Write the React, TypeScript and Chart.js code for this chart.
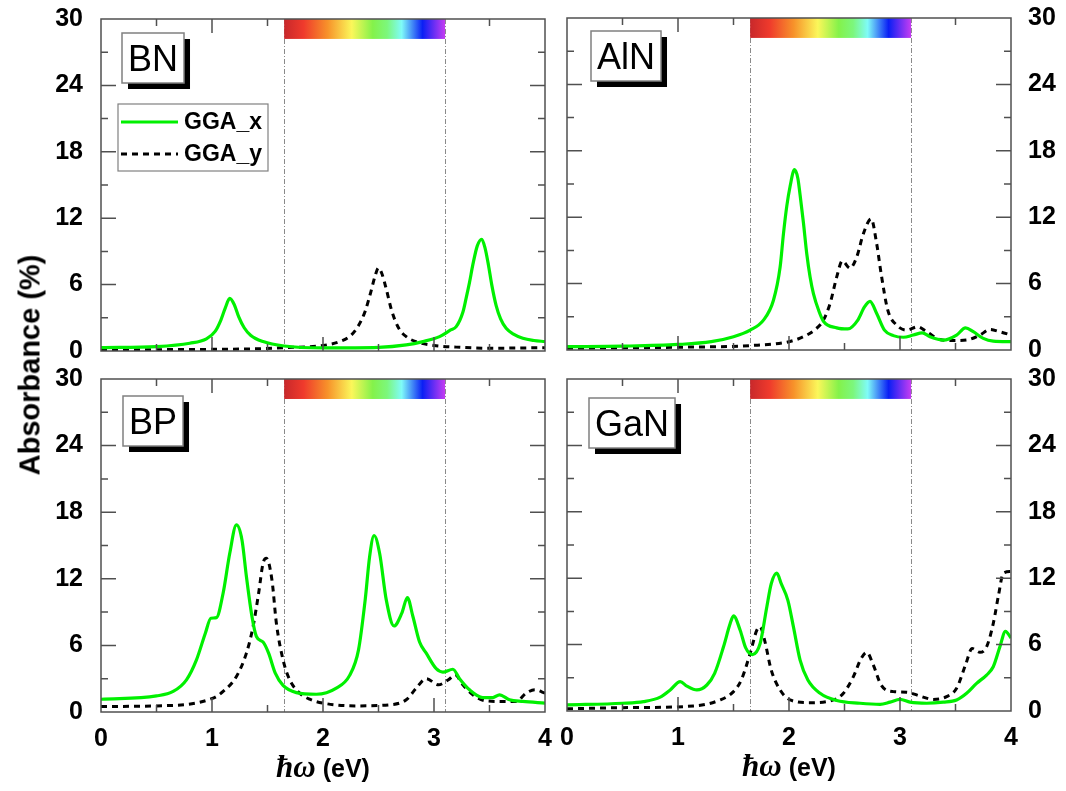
import { useEffect, useRef } from "react";
import { Chart, registerables } from "chart.js";

Chart.register(...registerables);

const SANS = '"Liberation Sans", Arial, sans-serif';
const SERIF = '"Liberation Serif", "Times New Roman", serif';

// ---------- data ----------
const seriesLabels = ["GGA_x", "GGA_y"];
const xRange = [0, 4];
const yRange = [0, 30];
const xTickStep = 1;
const yTickStep = 6;
const visibleBand = [1.65, 3.1];
const rainbowValues = [30, 28.2];

// BN
const bnXE = [0, 0.5, 0.8, 0.95, 1.03, 1.08, 1.12, 1.16, 1.2, 1.24, 1.29, 1.35, 1.46, 1.65, 2.0, 2.5, 2.75, 2.9, 3.05, 3.15, 3.2, 3.26, 3.29, 3.32, 3.35, 3.39, 3.43, 3.46, 3.49, 3.52, 3.56, 3.6, 3.65, 3.72, 3.8, 3.9, 4.0];
const bnXA = [0.3, 0.4, 0.7, 1.1, 1.8, 2.8, 3.9, 4.75, 4.2, 3.1, 2.1, 1.4, 0.85, 0.45, 0.28, 0.33, 0.55, 0.85, 1.3, 1.9, 2.2, 3.5, 4.8, 6.2, 7.8, 9.5, 10.1, 9.3, 7.8, 6.0, 4.1, 2.9, 2.05, 1.5, 1.15, 0.95, 0.85];
const bnYE = [0, 0.5, 1.0, 1.4, 1.65, 2.0, 2.15, 2.25, 2.32, 2.38, 2.43, 2.47, 2.5, 2.53, 2.57, 2.62, 2.68, 2.75, 2.85, 3.0, 3.2, 3.5, 4.0];
const bnYA = [0.1, 0.12, 0.15, 0.2, 0.3, 0.5, 0.85, 1.4, 2.3, 3.6, 5.3, 6.8, 7.5, 7.0, 5.6, 3.6, 2.1, 1.3, 0.8, 0.5, 0.35, 0.25, 0.3];

// AlN
const alnXE = [0, 0.5, 1.0, 1.3, 1.5, 1.65, 1.77, 1.86, 1.92, 1.95, 1.98, 2.01, 2.05, 2.08, 2.1, 2.13, 2.16, 2.19, 2.22, 2.27, 2.31, 2.43, 2.53, 2.62, 2.68, 2.73, 2.79, 2.86, 2.94, 3.03, 3.12, 3.2, 3.27, 3.39, 3.51, 3.59, 3.66, 3.75, 3.84, 4.0];
const alnXA = [0.3, 0.35, 0.5, 0.75, 1.2, 1.8, 2.7, 4.5, 7.5, 10.5, 13.0, 14.8, 16.3, 15.5, 14.0, 11.5, 8.7, 6.6, 5.1, 3.5, 2.6, 2.0, 1.9, 2.7, 3.9, 4.4, 3.3, 1.8, 1.3, 1.15, 1.35, 1.55, 1.2, 0.9, 1.35, 2.0, 1.65, 1.05, 0.8, 0.75];
const alnYE = [0, 1.0, 1.65, 2.0, 2.13, 2.23, 2.31, 2.37, 2.43, 2.48, 2.55, 2.61, 2.67, 2.74, 2.79, 2.83, 2.89, 2.97, 3.06, 3.16, 3.24, 3.36, 3.48, 3.6, 3.72, 3.81, 3.9, 4.0];
const alnYA = [0.15, 0.25, 0.4, 0.75, 1.2, 1.8, 2.7, 4.2, 6.6, 8.05, 7.4, 8.4, 10.5, 11.85, 9.6, 6.9, 3.6, 2.25, 1.8, 2.1, 1.65, 0.95, 0.85, 0.9, 1.35, 1.85, 1.65, 1.35];

// BP
const bpXE = [0, 0.5, 0.65, 0.77, 0.86, 0.94, 0.99, 1.04, 1.1, 1.16, 1.22, 1.27, 1.31, 1.36, 1.4, 1.46, 1.51, 1.57, 1.64, 1.76, 1.94, 2.12, 2.24, 2.32, 2.38, 2.42, 2.46, 2.51, 2.57, 2.64, 2.71, 2.76, 2.81, 2.87, 2.93, 3.02, 3.08, 3.17, 3.23, 3.32, 3.44, 3.53, 3.59, 3.68, 3.8, 4.0];
const bpXA = [1.15, 1.45, 1.85, 2.9, 4.7, 7.1, 8.45, 8.5, 10.7, 14.3, 16.85, 15.5, 12.2, 8.6, 6.8, 6.3, 5.3, 3.5, 2.4, 1.75, 1.6, 2.15, 3.3, 5.6, 10.1, 14.0, 15.9, 14.3, 10.1, 7.75, 8.9, 10.3, 8.6, 6.3, 5.3, 3.9, 3.6, 3.85, 3.0, 2.0, 1.3, 1.3, 1.55, 1.1, 0.95, 0.8];
const bpYE = [0, 0.5, 1.01, 1.1, 1.22, 1.31, 1.37, 1.42, 1.46, 1.49, 1.54, 1.58, 1.64, 1.7, 1.79, 1.88, 2.0, 2.3, 2.6, 2.75, 2.84, 2.93, 3.04, 3.13, 3.19, 3.26, 3.35, 3.47, 3.62, 3.74, 3.83, 3.91, 4.0];
const bpYA = [0.5, 0.55, 1.25, 1.85, 3.2, 5.3, 7.7, 10.7, 13.4, 13.85, 11.9, 8.0, 4.7, 2.9, 1.7, 1.15, 0.8, 0.55, 0.65, 1.1, 2.15, 3.0, 2.45, 2.9, 3.35, 2.45, 1.55, 1.0, 0.95, 0.95, 1.7, 2.0, 1.7];

// GaN
const ganXE = [0, 0.5, 0.69, 0.84, 0.93, 1.02, 1.08, 1.17, 1.26, 1.33, 1.41, 1.47, 1.5, 1.56, 1.61, 1.67, 1.74, 1.8, 1.84, 1.89, 1.93, 1.99, 2.04, 2.1, 2.17, 2.28, 2.43, 2.64, 2.82, 2.91, 3.0, 3.09, 3.24, 3.39, 3.51, 3.6, 3.69, 3.78, 3.84, 3.9, 3.95, 4.0];
const ganXA = [0.55, 0.7, 0.85, 1.25, 1.9, 2.65, 2.25, 1.9, 2.35, 3.4, 5.8, 7.9, 8.6, 7.3, 5.7, 5.1, 6.1, 9.4, 11.5, 12.45, 11.5, 10.0, 7.6, 4.6, 2.8, 1.6, 0.95, 0.7, 0.6, 0.8, 1.05, 0.8, 0.7, 0.8, 1.0, 1.6, 2.5, 3.25, 4.0, 5.8, 7.2, 6.6];
const ganYE = [0, 0.5, 1.14, 1.38, 1.5, 1.57, 1.65, 1.71, 1.74, 1.78, 1.84, 1.92, 2.01, 2.19, 2.4, 2.49, 2.58, 2.65, 2.7, 2.76, 2.83, 2.94, 3.06, 3.18, 3.3, 3.42, 3.51, 3.59, 3.65, 3.72, 3.78, 3.84, 3.89, 3.93, 4.0];
const ganYA = [0.2, 0.3, 0.45, 1.0, 1.75, 2.8, 5.2, 7.3, 7.6, 6.4, 3.7, 1.9, 1.0, 0.75, 1.0, 1.6, 3.1, 4.75, 5.3, 4.15, 2.35, 1.75, 1.7, 1.35, 1.05, 1.3, 2.05, 4.15, 5.65, 5.3, 5.8, 7.9, 10.6, 12.45, 12.6];

// ---------- styles / layout ----------
const GREEN = "#00f000";
const FRAME = "#505050";
const TICK_FONT = { family: SANS, size: 25, weight: "bold" };
const rainbowStops: [number, string][] = [
  [0, "#c8282b"],
  [0.12, "#ef3a2c"],
  [0.27, "#f7922a"],
  [0.42, "#fbf75a"],
  [0.55, "#84f24a"],
  [0.64, "#7cf77c"],
  [0.73, "#7ffbf8"],
  [0.86, "#0a1ff5"],
  [1, "#c63df2"],
];

type Panel = {
  name: string;
  xE: number[]; xA: number[]; yE: number[]; yA: number[];
  side: "left" | "right";
  bottom: boolean;
  legend: boolean;
  rect: { left: number; top: number; width: number; height: number };
  padding: { top: number; right: number; bottom: number; left: number };
  yAxisWidth: number;
  xAxisHeight: number;
  yGap: number;
  boxOffset: [number, number];
};

const panels: Panel[] = [
  {
    name: "BN", xE: bnXE, xA: bnXA, yE: bnYE, yA: bnYA, side: "left", bottom: false, legend: true,
    rect: { left: 0, top: 0, width: 556, height: 372 },
    padding: { top: 19, right: 11, bottom: 21, left: 0 },
    yAxisWidth: 101, xAxisHeight: 0, yGap: 18, boxOffset: [21, 14],
  },
  {
    name: "AlN", xE: alnXE, xA: alnXA, yE: alnYE, yA: alnYA, side: "right", bottom: false, legend: false,
    rect: { left: 556, top: 0, width: 510, height: 372 },
    padding: { top: 18, right: 0, bottom: 22, left: 11 },
    yAxisWidth: 55, xAxisHeight: 0, yGap: 17, boxOffset: [24, 13],
  },
  {
    name: "BP", xE: bpXE, xA: bpXA, yE: bpYE, yA: bpYA, side: "left", bottom: true, legend: false,
    rect: { left: 0, top: 360, width: 556, height: 431 },
    padding: { top: 19, right: 11, bottom: 0, left: 0 },
    yAxisWidth: 101, xAxisHeight: 79, yGap: 18, boxOffset: [22, 17],
  },
  {
    name: "GaN", xE: ganXE, xA: ganXA, yE: ganYE, yA: ganYA, side: "right", bottom: true, legend: false,
    rect: { left: 556, top: 360, width: 510, height: 431 },
    padding: { top: 19, right: 0, bottom: 0, left: 11 },
    yAxisWidth: 55, xAxisHeight: 80, yGap: 17, boxOffset: [22, 19],
  },
];

const toPoints = (e: number[], a: number[]) => e.map((x, i) => ({ x, y: a[i] }));

function makePlugin(p: Panel) {
  return {
    id: "panelDecor_" + p.name,
    beforeDatasetsDraw(chart: any) {
      const { ctx, chartArea: ca, scales } = chart;
      const xs = scales.x;
      ctx.save();
      ctx.strokeStyle = "#8a8a8a";
      ctx.lineWidth = 1;
      ctx.setLineDash([5, 2, 1, 2]);
      for (const v of visibleBand) {
        const x = Math.round(xs.getPixelForValue(v)) + 0.5;
        ctx.beginPath();
        ctx.moveTo(x, ca.top);
        ctx.lineTo(x, ca.bottom);
        ctx.stroke();
      }
      ctx.restore();
    },
    afterDatasetsDraw(chart: any) {
      const { ctx, chartArea: ca, scales } = chart;
      const xs = scales.x;
      const ys = scales.y;
      ctx.save();
      // inward ticks
      ctx.strokeStyle = FRAME;
      ctx.lineWidth = 1.5;
      for (let v = xRange[0] + 0.5; v < xRange[1]; v += 0.5) {
        const major = Math.abs(v - Math.round(v)) < 1e-6;
        const len = major ? 14 : 7;
        const x = xs.getPixelForValue(v);
        ctx.beginPath();
        ctx.moveTo(x, ca.bottom);
        ctx.lineTo(x, ca.bottom - len);
        ctx.moveTo(x, ca.top);
        ctx.lineTo(x, ca.top + len);
        ctx.stroke();
      }
      for (let v = yRange[0] + 3; v < yRange[1]; v += 3) {
        const major = v % 6 === 0;
        const len = major ? 15 : 7;
        const y = ys.getPixelForValue(v);
        ctx.beginPath();
        ctx.moveTo(ca.left, y);
        ctx.lineTo(ca.left + len, y);
        ctx.moveTo(ca.right, y);
        ctx.lineTo(ca.right - len, y);
        ctx.stroke();
      }
      // rainbow (visible spectrum)
      const rx0 = xs.getPixelForValue(visibleBand[0]);
      const rx1 = xs.getPixelForValue(visibleBand[1]);
      const ry0 = ys.getPixelForValue(rainbowValues[0]);
      const ry1 = ys.getPixelForValue(rainbowValues[1]);
      const g = ctx.createLinearGradient(rx0, 0, rx1, 0);
      for (const [o, c] of rainbowStops) g.addColorStop(o, c);
      ctx.fillStyle = g;
      ctx.fillRect(rx0, ry0, rx1 - rx0, ry1 - ry0);
      // frame
      ctx.strokeStyle = FRAME;
      ctx.lineWidth = 1.5;
      ctx.strokeRect(ca.left, ca.top, ca.right - ca.left, ca.bottom - ca.top);
      // material label box with shadow
      ctx.font = `36px ${SANS}`;
      const tw = ctx.measureText(p.name).width;
      const bw = tw + 12;
      const bh = 50;
      const bx = ca.left + p.boxOffset[0];
      const by = ca.top + p.boxOffset[1];
      ctx.fillStyle = "#000";
      ctx.fillRect(bx + 6, by + 6, bw, bh);
      ctx.fillStyle = "#fff";
      ctx.fillRect(bx, by, bw, bh);
      ctx.strokeStyle = "#808080";
      ctx.lineWidth = 1.5;
      ctx.strokeRect(bx, by, bw, bh);
      ctx.fillStyle = "#000";
      ctx.textAlign = "center";
      ctx.textBaseline = "alphabetic";
      ctx.fillText(p.name, bx + bw / 2, by + bh / 2 + 13);
      // legend
      if (p.legend) {
        const lx = ca.left + 17;
        const ly = ca.top + 85;
        ctx.fillStyle = "#fff";
        ctx.fillRect(lx, ly, 150, 67);
        ctx.strokeStyle = "#808080";
        ctx.lineWidth = 1.2;
        ctx.strokeRect(lx, ly, 150, 67);
        chart.data.datasets.forEach((ds: any, i: number) => {
          const yy = ly + 18 + i * 32;
          ctx.save();
          ctx.strokeStyle = ds.borderColor;
          ctx.lineWidth = ds.borderWidth;
          ctx.setLineDash(ds.borderDash || []);
          ctx.beginPath();
          ctx.moveTo(lx + 3, yy);
          ctx.lineTo(lx + 60, yy);
          ctx.stroke();
          ctx.restore();
          ctx.fillStyle = "#000";
          ctx.font = `bold 23px ${SANS}`;
          ctx.textAlign = "left";
          ctx.textBaseline = "middle";
          ctx.fillText(ds.label, lx + 66, yy + 1);
        });
      }
      ctx.restore();
    },
    afterDraw(chart: any) {
      if (!p.bottom) return;
      const { ctx, chartArea: ca } = chart;
      ctx.save();
      const part1 = "ħω";
      const part2 = " (eV)";
      const f1 = `bold italic 31px ${SERIF}`;
      const f2 = `bold 25px ${SANS}`;
      ctx.font = f1;
      const w1 = ctx.measureText(part1).width;
      ctx.font = f2;
      const w2 = ctx.measureText(part2).width;
      const cx = (ca.left + ca.right) / 2;
      const x0 = cx - (w1 + w2) / 2;
      const base = ca.bottom + 65;
      ctx.fillStyle = "#000";
      ctx.textAlign = "left";
      ctx.textBaseline = "alphabetic";
      ctx.font = f1;
      ctx.fillText(part1, x0, base);
      ctx.font = f2;
      ctx.fillText(part2, x0 + w1, base);
      ctx.restore();
    },
  };
}

function PanelChart({ p }: { p: Panel }) {
  const ref = useRef<HTMLCanvasElement | null>(null);
  useEffect(() => {
    if (!ref.current) return;
    const chart = new Chart(ref.current, {
      type: "line",
      data: {
        datasets: [
          {
            label: seriesLabels[0],
            data: toPoints(p.xE, p.xA),
            borderColor: GREEN,
            borderWidth: 3.2,
            pointRadius: 0,
            fill: false,
            cubicInterpolationMode: "monotone",
          },
          {
            label: seriesLabels[1],
            data: toPoints(p.yE, p.yA),
            borderColor: "#000000",
            borderWidth: 3,
            borderDash: [6, 5],
            pointRadius: 0,
            fill: false,
            cubicInterpolationMode: "monotone",
          },
        ],
      },
      options: {
        responsive: false,
        animation: false,
        devicePixelRatio: 1,
        layout: { padding: p.padding },
        plugins: { legend: { display: false }, tooltip: { enabled: false }, title: { display: false } },
        scales: {
          x: {
            type: "linear",
            min: xRange[0],
            max: xRange[1],
            display: p.bottom,
            position: "bottom",
            grid: { display: false, drawTicks: true, tickLength: 12 },
            border: { display: false },
            ticks: {
              stepSize: xTickStep,
              autoSkip: false,
              maxRotation: 0,
              padding: 0,
              color: "#000",
              font: TICK_FONT,
            },
            afterFit: (s: any) => {
              s.height = p.xAxisHeight;
            },
          },
          y: {
            type: "linear",
            min: yRange[0],
            max: yRange[1],
            position: p.side,
            grid: { display: false, drawTicks: true, tickLength: p.yGap },
            border: { display: false },
            ticks: {
              stepSize: yTickStep,
              padding: 0,
              color: "#000",
              font: TICK_FONT,
            },
            afterFit: (s: any) => {
              s.width = p.yAxisWidth;
            },
          },
        },
      } as any,
      plugins: [makePlugin(p) as any],
    });
    return () => chart.destroy();
  }, [p]);
  return (
    <canvas
      ref={ref}
      width={p.rect.width}
      height={p.rect.height}
      style={{
        position: "absolute",
        left: p.rect.left,
        top: p.rect.top,
        width: p.rect.width,
        height: p.rect.height,
      }}
    />
  );
}

export default function App() {
  return (
    <div
      style={{
        position: "absolute",
        left: 0,
        top: 0,
        width: 1066,
        height: 791,
        background: "#fff",
        overflow: "hidden",
      }}
    >
      {panels.map((p) => (
        <PanelChart key={p.name} p={p} />
      ))}
      <div
        style={{
          position: "absolute",
          left: 30,
          top: 365,
          transform: "translate(-50%, -50%) rotate(-90deg)",
          whiteSpace: "nowrap",
          fontFamily: SANS,
          fontWeight: "bold",
          fontSize: 29,
          color: "#000",
        }}
      >
        Absorbance (%)
      </div>
    </div>
  );
}
